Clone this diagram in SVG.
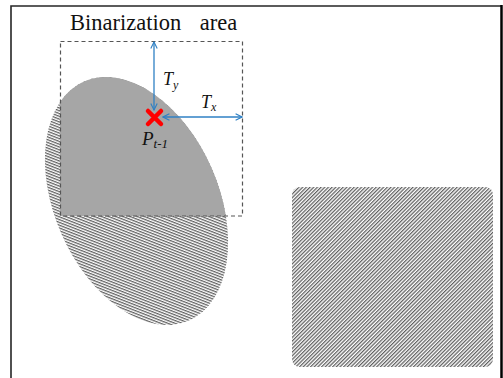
<svg xmlns="http://www.w3.org/2000/svg" width="503" height="378" viewBox="0 0 503 378">
<style>
.frame{stroke:#262626;fill:none}
.arrow{stroke:#2f80c4;stroke-width:1.3;fill:none}
.serif{font-family:"Liberation Serif","Times New Roman",serif;fill:#111}
.it{font-style:italic}
</style>
<defs>
<pattern id="hatch" width="2.6" height="2.6" patternUnits="userSpaceOnUse" patternTransform="rotate(45)">
<rect x="0" y="0" width="1.25" height="2.6" fill="#606060"/>
</pattern>
<clipPath id="inRect"><rect x="60" y="41" width="183" height="175"/></clipPath>
<marker id="ah" viewBox="0 0 10 10" refX="9" refY="5" markerWidth="8" markerHeight="8" markerUnits="userSpaceOnUse" orient="auto-start-reverse">
<path d="M1,1 L9,5 L1,9" fill="none" stroke="#2f80c4" stroke-width="1.4"/>
</marker>
</defs>
<rect x="0" y="0" width="503" height="378" fill="#fff"/>
<g id="frame">
<path class="frame" d="M11,378 L11,6 L501,6" stroke-width="1.6"/>
<line x1="501.5" y1="5" x2="501.5" y2="378" stroke="#000" stroke-width="2.5"/>
</g>
<g id="ellipse-object">
<ellipse cx="136.5" cy="201" rx="130.5" ry="82" transform="rotate(66.3 136.5 201)" fill="url(#hatch)"/>
<g clip-path="url(#inRect)">
<ellipse cx="136.5" cy="201" rx="130.5" ry="82" transform="rotate(66.3 136.5 201)" fill="#a6a6a6"/>
</g>
</g>
<g id="square-object">
<rect x="292" y="187" width="201" height="180" rx="8" ry="8" fill="url(#hatch)"/>
</g>
<g id="binarization-area">
<rect x="60.5" y="41.5" width="182" height="174.5" fill="none" stroke="#555" stroke-width="1.2" stroke-dasharray="4,3"/>
<text class="serif" x="70" y="30" font-size="22.5" word-spacing="13">Binarization area</text>
</g>
<g id="connectors">
<line class="arrow" x1="154" y1="42" x2="154" y2="110" marker-start="url(#ah)" marker-end="url(#ah)"/>
<line class="arrow" x1="163" y1="117" x2="242" y2="117" marker-start="url(#ah)" marker-end="url(#ah)"/>
</g>
<g id="label-ty">
<text class="serif it" x="163" y="85" font-size="18">T<tspan font-size="12" dy="4">y</tspan></text>
</g>
<g id="label-tx">
<text class="serif it" x="201" y="108" font-size="18">T<tspan font-size="12" dy="3">x</tspan></text>
</g>
<g id="point-p">
<path d="M148,111 L161,124 M161,111 L148,124" stroke="#ff0000" stroke-width="4.5" stroke-linecap="round"/>
<text class="serif it" x="142" y="145" font-size="19">P<tspan font-size="13" dy="3">t-1</tspan></text>
</g>
</svg>
